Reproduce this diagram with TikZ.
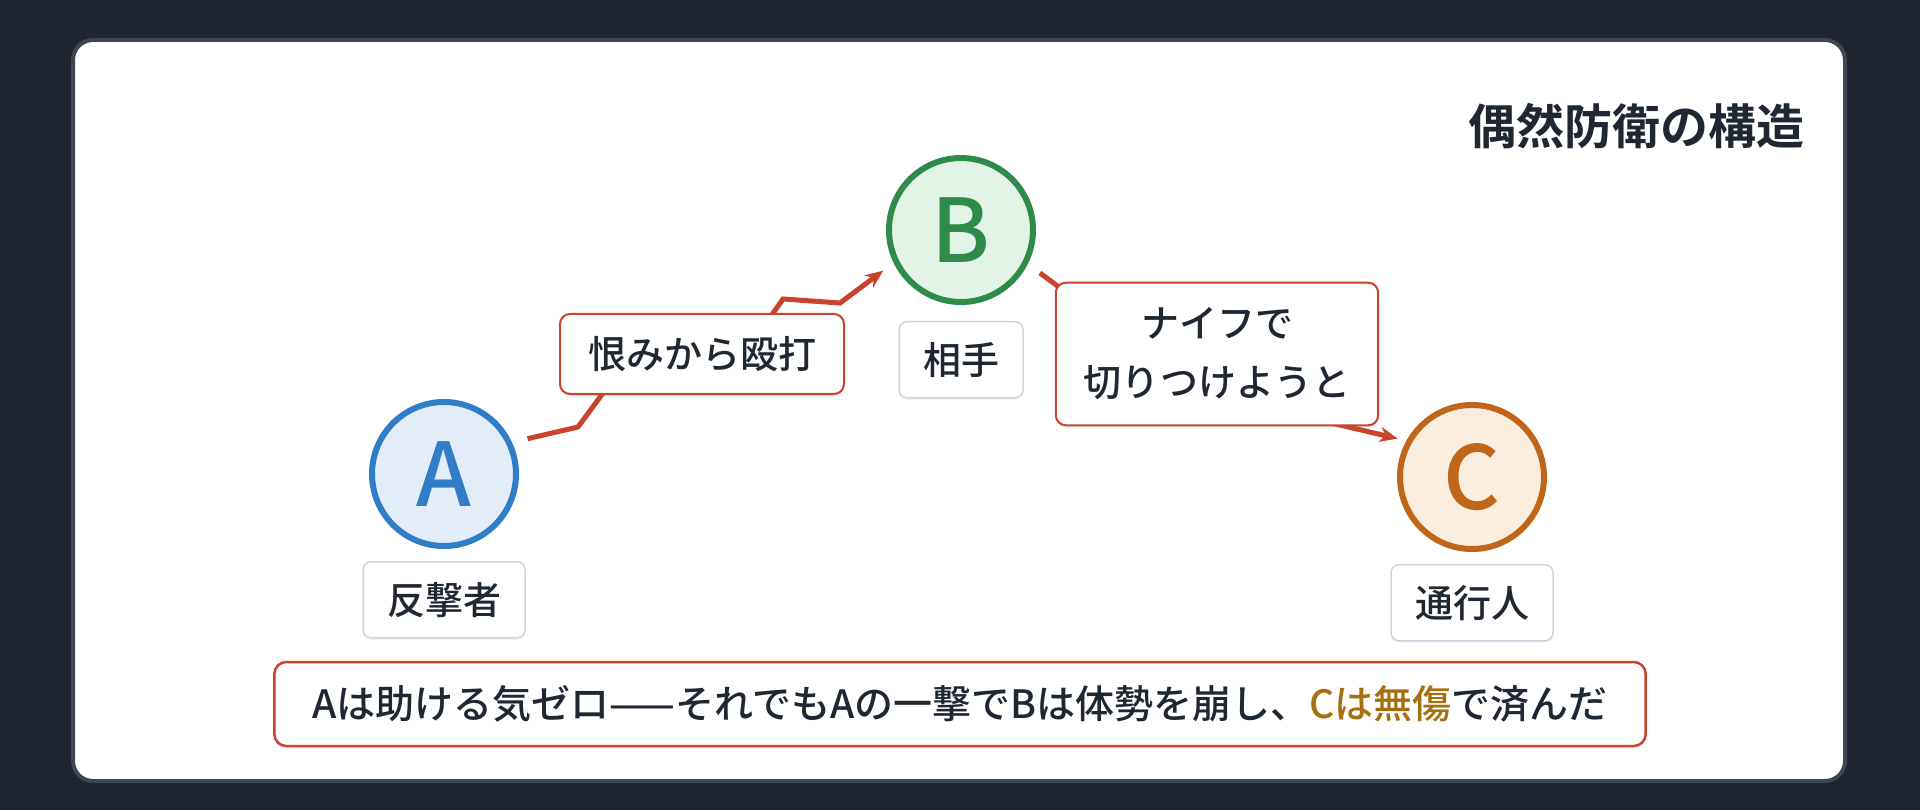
\documentclass[tikz,border=0pt]{standalone}
\usepackage{fontspec}
\setmainfont{Noto Sans CJK JP Medium}[BoldFont={Noto Sans CJK JP Bold}]
\usetikzlibrary{positioning,arrows.meta,shadows}

\definecolor{bgdark}{HTML}{1E2430}
\definecolor{cardline}{HTML}{3D4654}
\definecolor{ink}{HTML}{1F2733}
\definecolor{hitred}{HTML}{C9432F}
\definecolor{ablue}{HTML}{2F7EC7}
\definecolor{afill}{HTML}{E3EDF9}
\definecolor{bgreen}{HTML}{2E8B4C}
\definecolor{bfill}{HTML}{E2F4E6}
\definecolor{corange}{HTML}{C0661B}
\definecolor{cfill}{HTML}{FCEEDF}
\definecolor{gold}{HTML}{A6700F}
\definecolor{roleline}{HTML}{CBD5E1}

\begin{document}
\begin{tikzpicture}[x=1pt, y=-1pt, node distance=12pt, auto]
    % Define the styles for each node
    \tikzstyle{party} = [circle, line width=6pt, minimum size=144pt, inner sep=0pt, font=\fontsize{88}{88}\selectfont, drop shadow={opacity=0.12, shadow xshift=0pt, shadow yshift=-3pt}]
    \tikzstyle{role} = [rectangle, draw=roleline, line width=1.5pt, fill=white, rounded corners=8pt, minimum height=76pt, inner xsep=24pt, text=ink, font=\fontsize{38}{46}\selectfont, drop shadow={opacity=0.08, shadow xshift=0pt, shadow yshift=-2pt}]
    \tikzstyle{act} = [rectangle, draw=hitred, line width=2pt, fill=white, rounded corners=10pt, minimum height=80pt, inner xsep=28pt, inner ysep=14pt, text=ink, align=center, font=\fontsize{38}{59}\selectfont, drop shadow={opacity=0.1, shadow xshift=0pt, shadow yshift=-3pt}]
    \tikzstyle{hit} = [draw=hitred, line width=5pt, line join=miter, -{Stealth[length=18pt, width=15pt]}]

    % Background and card
    \useasboundingbox (0,0) rectangle (1920,810);
    \fill [bgdark] (0,0) rectangle (1920,810);
    \draw [cardline, line width=4pt, fill=white, rounded corners=20pt] (73,40) rectangle (1845,781);

    % Title
    \node [anchor=east, text=ink, font=\fontsize{48}{56}\selectfont\bfseries] (title) at (1808,126) {偶然防衛の構造};

    % Create the nodes for each party
    \node [party, draw=ablue, fill=afill, text=ablue] (A) at (444,474) {A};
    \node [party, draw=bgreen, fill=bfill, text=bgreen] (B) at (961,230) {B};
    \node [party, draw=corange, fill=cfill, text=corange] (C) at (1472,477) {C};

    \node [role, below=of A] (attacker) {反撃者};
    \node [role, below=16pt of B] (partner) {相手};
    \node [role, below=of C] (passer) {通行人};

    % Draw the arrows between the parties
    \draw [hit, shorten <=16pt, shorten >=13pt] (A.25) -- (578,427) -- (620,370) -- (740,360) -- (783,299) -- (840,303) -- (B.206);
    \draw [hit, shorten <=15pt, shorten >=9pt] (B.-27) -- (1090,310) -- (1310,418) -- (C.151);

    % Add the labels for the arrows
    \node [act] (punch) at (702,354) {恨みから殴打};
    \node [act, inner ysep=25pt] (knife) at (1217,354) {ナイフで\\切りつけようと};

    % Summary
    \node [act, line width=2.5pt, minimum height=84pt, inner xsep=38pt, rounded corners=12pt, font=\fontsize{39}{46}\selectfont] (summary) at (960,704) {Aは助ける気ゼロ——それでもAの一撃でBは体勢を崩し、\textcolor{gold}{Cは無傷}で済んだ};
\end{tikzpicture}
\end{document}
